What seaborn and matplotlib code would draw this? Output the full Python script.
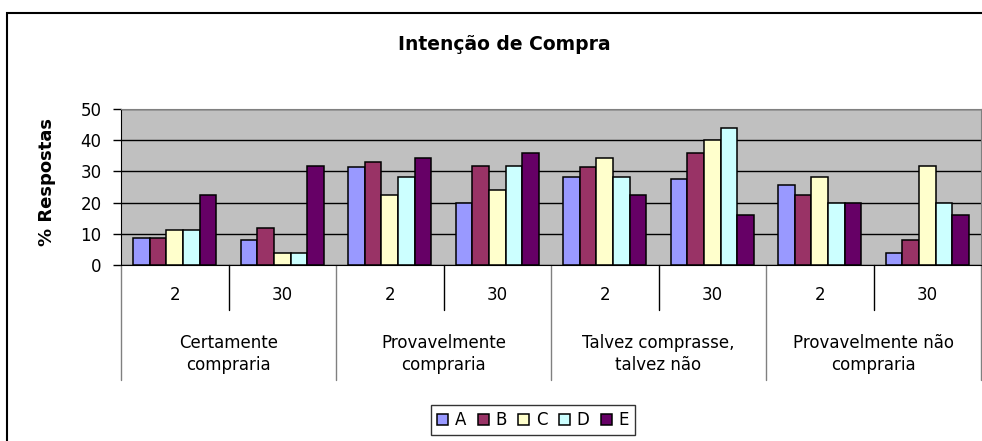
import pandas as pd
import numpy as np
import seaborn as sns
import matplotlib.pyplot as plt
from matplotlib.patches import Rectangle

# dados
grupos = ["Certamente\ncompraria", "Provavelmente\ncompraria",
          "Talvez comprasse,\ntalvez não", "Provavelmente não\ncompraria"]
periodos = ["2", "30"]
series = ["A", "B", "C", "D", "E"]
valores_A = [8.6, 8.0, 31.3, 20.0, 28.2, 27.7, 25.6, 3.9]
valores_B = [8.6, 11.8, 32.9, 31.8, 31.3, 36.0, 22.5, 7.9]
valores_C = [11.2, 3.9, 22.5, 24.1, 34.4, 40.1, 28.2, 31.8]
valores_D = [11.2, 3.9, 28.2, 31.8, 28.2, 43.8, 20.0, 20.0]
valores_E = [22.5, 31.8, 34.4, 36.0, 22.5, 15.9, 20.0, 15.9]
cores = ["#9999FF", "#993366", "#FFFFCC", "#CCFFFF", "#660066"]

# tabela longa para o seaborn
slots = [f"{g}|{p}" for g in grupos for p in periodos]
linhas = []
for s, vals in zip(series, [valores_A, valores_B, valores_C, valores_D, valores_E]):
    for slot, v in zip(slots, vals):
        linhas.append({"slot": slot, "serie": s, "valor": v})
df = pd.DataFrame(linhas)

sns.set_style("white")
plt.rcParams['font.family'] = ['DejaVu Sans']
plt.rcParams['text.color'] = 'black'
plt.rcParams['ytick.color'] = 'black'
plt.rcParams['ytick.labelcolor'] = 'black'
fs = 12

fig = plt.figure(figsize=(9.82, 4.41), dpi=100)
ax = fig.add_axes([121 / 982, 1 - 265 / 441, 860 / 982, 156 / 441])

sns.barplot(data=df, x="slot", y="valor", hue="serie", order=slots,
            hue_order=series, palette=cores, width=0.77, saturation=1,
            edgecolor="black", linewidth=1.1, ax=ax, legend=True)

ax.set_facecolor("#C0C0C0")
ax.set_ylim(0, 50)
ax.set_xlim(-0.5, len(slots) - 0.5)
ax.set_yticks(range(0, 51, 10))
ax.yaxis.grid(True, color="black", linewidth=1)
ax.set_axisbelow(True)
ax.tick_params(axis="y", length=6, width=1, color="black", labelcolor="black",
               labelsize=fs, pad=8, left=True)
ax.set_xticks([])
ax.set_xlabel("")
ax.set_ylabel("")
fig.text(47 / 982, 1 - 182 / 441, "% Respostas", rotation=90, ha="center", va="center",
         fontsize=13, fontweight="bold")
for lado in ["top", "right"]:
    ax.spines[lado].set_color("#808080")
ax.spines["bottom"].set_color("black")
ax.spines["left"].set_color("black")

# rótulos de categoria em dois níveis
tr = ax.get_xaxis_transform()
for i, slot in enumerate(slots):
    ax.text(i, -30 / 156, slot.split("|")[1], transform=tr, ha="center", va="center", fontsize=fs)
for j, g in enumerate(grupos):
    ax.text(2 * j + 0.5, -89 / 156, g, transform=tr, ha="center", va="center",
            fontsize=fs, linespacing=1.25)
for x in [0.5, 2.5, 4.5, 6.5]:
    ax.plot([x, x], [0, -45 / 156], transform=tr, color="black", lw=1, clip_on=False)
for x in [-0.5, 1.5, 3.5, 5.5, 7.5]:
    ax.plot([x, x], [0, -115 / 156], transform=tr, color="#808080", lw=1, clip_on=False)

fig.text(504 / 982, 1 - 45 / 441, "Intenção de Compra", ha="center", va="center",
         fontsize=13.5, fontweight="bold")

leg = ax.legend(loc="center", bbox_to_anchor=(533 / 982, 1 - 420 / 441),
                bbox_transform=fig.transFigure, ncol=5, frameon=True, fancybox=False,
                fontsize=fs, handlelength=0.65, handleheight=0.65, handletextpad=0.4,
                columnspacing=0.7, borderpad=0.35, borderaxespad=0, title=None)
leg.get_frame().set_edgecolor("black")
leg.get_frame().set_linewidth(1)

# moldura externa
fig.patches.append(Rectangle((7 / 982, -0.05), 1.1, 1 - 13 / 441 + 0.05,
                             transform=fig.transFigure, fill=False,
                             edgecolor="black", linewidth=1.5, clip_on=False))

fig.savefig("out.png", dpi=100)
